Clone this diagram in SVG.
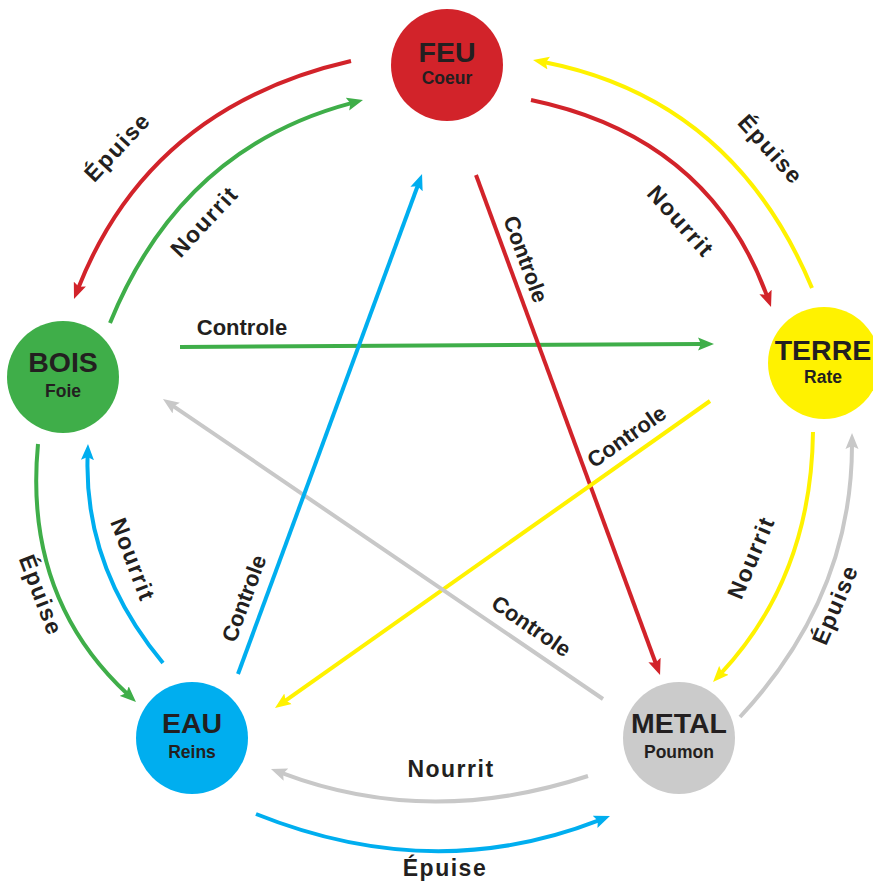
<svg xmlns="http://www.w3.org/2000/svg" width="873" height="882" viewBox="0 0 873 882">
<style>
.bg{fill:#ffffff}
.ln{fill:none;stroke-width:4;stroke-linecap:butt}
.red{stroke:#d2232a}.grn{stroke:#3fae49}.blu{stroke:#00aeef}.yel{stroke:#fff200}.gry{stroke:#c8c8c8}
.t{font-family:"Liberation Sans",Arial,sans-serif;font-weight:bold;fill:#231f20;text-anchor:middle}
.ttl{font-size:28.5px}
.sub{font-size:17.5px}
.ctl{font-size:22px}
.lbl{font-size:23px;letter-spacing:1.5px}
</style>
<defs>
<marker id="ah-red" viewBox="0 -7 16 14" refX="4" refY="0" markerWidth="16" markerHeight="14" markerUnits="userSpaceOnUse" orient="auto"><path d="M0,-6.5 L16,0 L0,6.5 L3,0 z" fill="#d2232a"/></marker>
<marker id="ah-grn" viewBox="0 -7 16 14" refX="4" refY="0" markerWidth="16" markerHeight="14" markerUnits="userSpaceOnUse" orient="auto"><path d="M0,-6.5 L16,0 L0,6.5 L3,0 z" fill="#3fae49"/></marker>
<marker id="ah-blu" viewBox="0 -7 16 14" refX="4" refY="0" markerWidth="16" markerHeight="14" markerUnits="userSpaceOnUse" orient="auto"><path d="M0,-6.5 L16,0 L0,6.5 L3,0 z" fill="#00aeef"/></marker>
<marker id="ah-yel" viewBox="0 -7 16 14" refX="4" refY="0" markerWidth="16" markerHeight="14" markerUnits="userSpaceOnUse" orient="auto"><path d="M0,-6.5 L16,0 L0,6.5 L3,0 z" fill="#fff200"/></marker>
<marker id="ah-gry" viewBox="0 -7 16 14" refX="4" refY="0" markerWidth="16" markerHeight="14" markerUnits="userSpaceOnUse" orient="auto"><path d="M0,-6.5 L16,0 L0,6.5 L3,0 z" fill="#c8c8c8"/></marker>
</defs>
<rect class="bg" x="0" y="0" width="873" height="882"/>
<g id="connectors">
  <!-- Controle (straight) -->
  <path class="ln grn" d="M180,347 L702,344" marker-end="url(#ah-grn)"/>
  <path class="ln red" d="M476,175 L655.9,663.7" marker-end="url(#ah-red)"/>
  <path class="ln yel" d="M710,401 L284.8,701.1" marker-end="url(#ah-yel)"/>
  <path class="ln gry" d="M603,699 L172.9,405.8" marker-end="url(#ah-gry)"/>
  <path class="ln blu" d="M238,674 L417.9,185.3" marker-end="url(#ah-blu)"/>
  <!-- Épuise (outer arcs) -->
  <path class="ln red" d="M351,61 Q149.9,107.1 78.4,287.8" marker-end="url(#ah-red)"/>
  <path class="ln yel" d="M812,288 Q733.3,99.7 544.8,62.3" marker-end="url(#ah-yel)"/>
  <path class="ln gry" d="M740,717 Q851.8,597 852,445" marker-end="url(#ah-gry)"/>
  <path class="ln blu" d="M256,814 Q433,885 598.8,820.4" marker-end="url(#ah-blu)"/>
  <path class="ln grn" d="M38,444 Q23.4,597.1 127.2,693.8" marker-end="url(#ah-grn)"/>
  <!-- Nourrit (inner arcs) -->
  <path class="ln grn" d="M110,323 Q180.9,148.4 351.4,103.1" marker-end="url(#ah-grn)"/>
  <path class="ln red" d="M531,100 Q708.5,136.9 766.9,295.7" marker-end="url(#ah-red)"/>
  <path class="ln yel" d="M813,432 Q811.3,576.3 721.2,673.2" marker-end="url(#ah-yel)"/>
  <path class="ln gry" d="M588,776 Q428.3,828.5 282.2,773.2" marker-end="url(#ah-gry)"/>
  <path class="ln blu" d="M163,663 Q83.9,567.8 87.6,456" marker-end="url(#ah-blu)"/>
  <!-- labels -->
  <text class="t ctl" x="242" y="335">Controle</text>
  <text class="t ctl" transform="translate(518.5,261.7) rotate(69.8)">Controle</text>
  <text class="t ctl" transform="translate(631,442.7) rotate(-35.2)">Controle</text>
  <text class="t ctl" transform="translate(527,632.3) rotate(34.3)">Controle</text>
  <text class="t ctl" transform="translate(251,601) rotate(-69.8)">Controle</text>
  <text class="t lbl" transform="translate(123.1,152.3) rotate(-47)">Épuise</text>
  <text class="t lbl" transform="translate(764.8,154.7) rotate(48)">Épuise</text>
  <text class="t lbl" transform="translate(842.4,607.7) rotate(-67)">Épuise</text>
  <text class="t lbl" x="445" y="876">Épuise</text>
  <text class="t lbl" transform="translate(33.5,598) rotate(69)">Épuise</text>
  <text class="t lbl" transform="translate(210.1,226.8) rotate(-47)">Nourrit</text>
  <text class="t lbl" transform="translate(674.8,226.7) rotate(48)">Nourrit</text>
  <text class="t lbl" transform="translate(758.4,560.7) rotate(-67)">Nourrit</text>
  <text class="t lbl" x="451" y="777">Nourrit</text>
  <text class="t lbl" transform="translate(125.5,562.5) rotate(69)">Nourrit</text>
</g>
<g id="feu">
  <circle cx="447" cy="65" r="56" fill="#d2232a"/>
  <text class="t ttl" x="447" y="62">FEU</text>
  <text class="t sub" x="447" y="84">Coeur</text>
</g>
<g id="terre">
  <circle cx="824" cy="363" r="56" fill="#fff200"/>
  <text class="t ttl" x="823" y="360">TERRE</text>
  <text class="t sub" x="823" y="383">Rate</text>
</g>
<g id="metal">
  <circle cx="679" cy="738" r="56" fill="#cbcbcb"/>
  <text class="t ttl" x="679" y="733">METAL</text>
  <text class="t sub" x="679" y="758">Poumon</text>
</g>
<g id="eau">
  <circle cx="192" cy="738" r="56" fill="#00aeef"/>
  <text class="t ttl" x="192" y="733">EAU</text>
  <text class="t sub" x="192" y="758">Reins</text>
</g>
<g id="bois">
  <circle cx="63" cy="377" r="56" fill="#3fae49"/>
  <text class="t ttl" x="63" y="372">BOIS</text>
  <text class="t sub" x="63" y="397">Foie</text>
</g>
</svg>
